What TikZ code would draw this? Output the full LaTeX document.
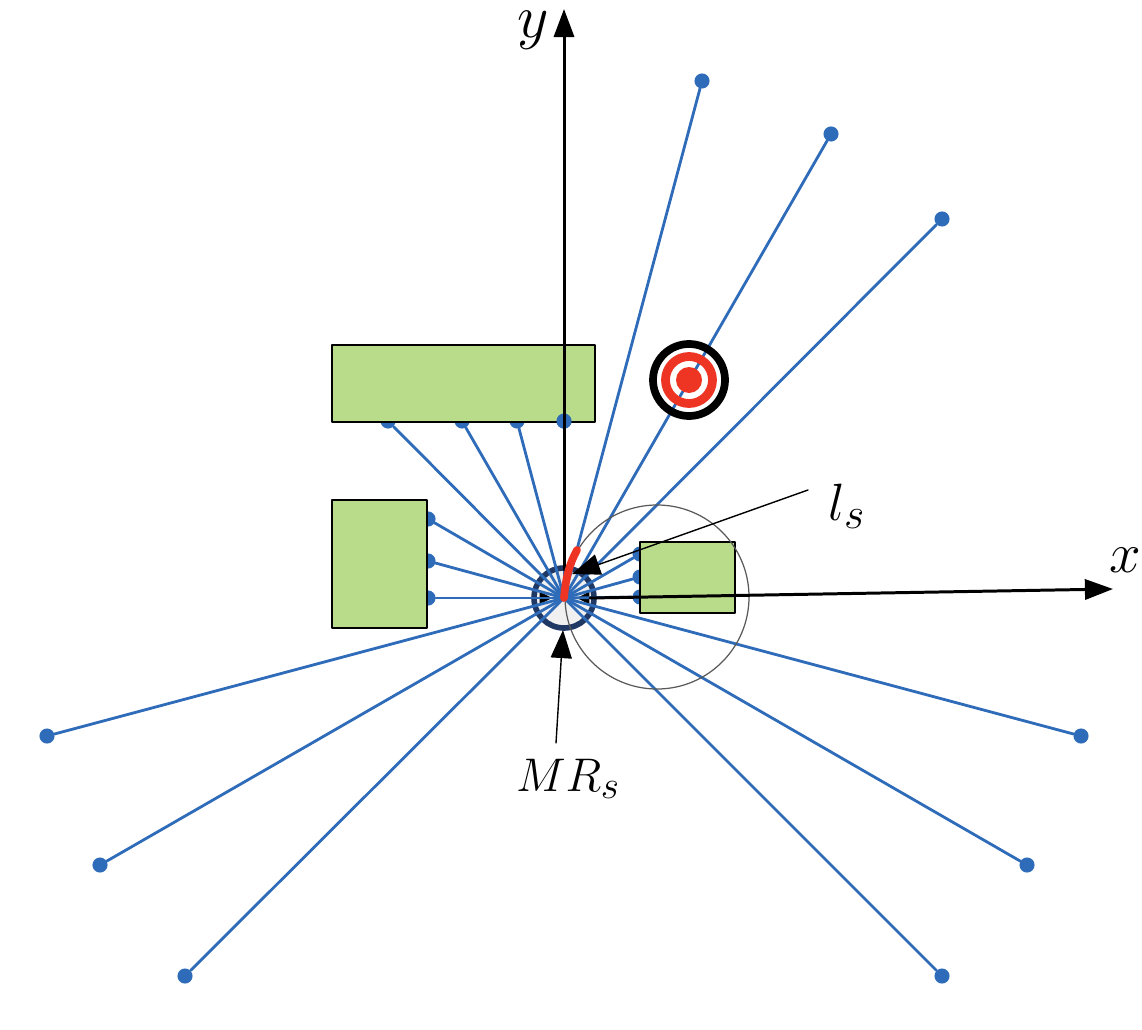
\documentclass[tikz,border=0pt]{standalone}
\usetikzlibrary{arrows.meta}
\definecolor{raycol}{RGB}{46,107,184}
\definecolor{boxcol}{RGB}{184,220,138}
\definecolor{redcol}{RGB}{238,52,35}
\definecolor{ringcol}{RGB}{31,56,100}
\tikzset{
	ray/.style={draw=raycol,line width=1.6pt},
	dot/.style={circle,fill=raycol,inner sep=0pt,minimum size=8.6pt},
	obstacle/.style={draw=black,fill=boxcol,line width=0.7pt},
	axis/.style={draw=black,line width=1.7pt,-{Triangle[length=16pt,width=11.5pt]}},
	pointer/.style={draw=black,line width=0.8pt,-{Triangle[length=16pt,width=12pt]}},
	stub/.style={draw=black,line width=0.8pt,-{Triangle[length=7pt,width=7pt]}},
	mathlabel/.style={inner sep=0pt,font=\Huge}
}
\begin{document}
\begin{tikzpicture}[line cap=round,line join=round,x=0.02cm,y=-0.02cm]
	\useasboundingbox (0,0) rectangle (1142,1030);
	\coordinate (centre) at (564,598);
	% ring
	\draw[draw=ringcol,fill=black!6,line width=3.2pt] (centre) circle (30);
	\coordinate (stubl) at (539,598);
	\coordinate (stubla) at (552,598);
	\coordinate (stubr) at (590,598);
	\coordinate (stubra) at (577,598);
	\draw[stub] (stubl) -- (stubla);
	\draw[stub] (stubr) -- (stubra);
	% rays
	\foreach \i/\px/\py in {1/702/81,2/831/134,3/942/219,4/640/554,5/640/577,6/640/597,
		7/1081/736,8/1027/865,9/942/976,10/185/976,11/100/865,12/47/736,
		13/428/598,14/428/561,15/428/519,16/388/421,17/462/421,18/517/421,19/564/421}{
		\node[dot] (d\i) at (\px,\py) {};
		\draw[ray] (centre) -- (d\i);
	}
	% obstacles
	\draw[obstacle] (332,345) rectangle (595,422);
	\draw[obstacle] (332,500) rectangle (427,628);
	\draw[obstacle] (640,542) rectangle (735,613);
	\node[dot] at (d19) {};
	% sensor circle
	\draw[draw=black!65,line width=0.7pt] (657,597) circle (92);
	% target
	\draw[black,line width=4.4pt] (689,380) circle (36);
	\draw[redcol,line width=5pt] (689,380) circle (23.5);
	\fill[redcol] (689,380) circle (13);
	% axes
	\coordinate (ystart) at (564,570);
	\coordinate (ytip) at (564,9);
	\coordinate (xtip) at (1113,589);
	\draw[axis] (ystart) -- (ytip);
	\draw[axis] (stubr) -- (xtip);
	\node[mathlabel,scale=1.4] (ylabel) at (533,30) {$y$};
	\node[mathlabel,scale=1.3] (xlabel) at (1125,560) {$x$};
	% pointers
	\coordinate (lstart) at (808,490);
	\coordinate (ltip) at (572,574);
	\coordinate (mrstart) at (556,743);
	\coordinate (mrtip) at (563,630);
	\draw[pointer] (lstart) -- (ltip);
	\draw[pointer] (mrstart) -- (mrtip);
	\node[mathlabel,scale=1.2] (lslabel) at (847,506) {$l_s$};
	\node[mathlabel,scale=1.08] (mrlabel) at (568,779) {$MR_s$};
	% curve
	\draw[redcol,line width=4.4pt] (centre) .. controls (566,575) and (570,563) .. (577,550);
\end{tikzpicture}
\end{document}
